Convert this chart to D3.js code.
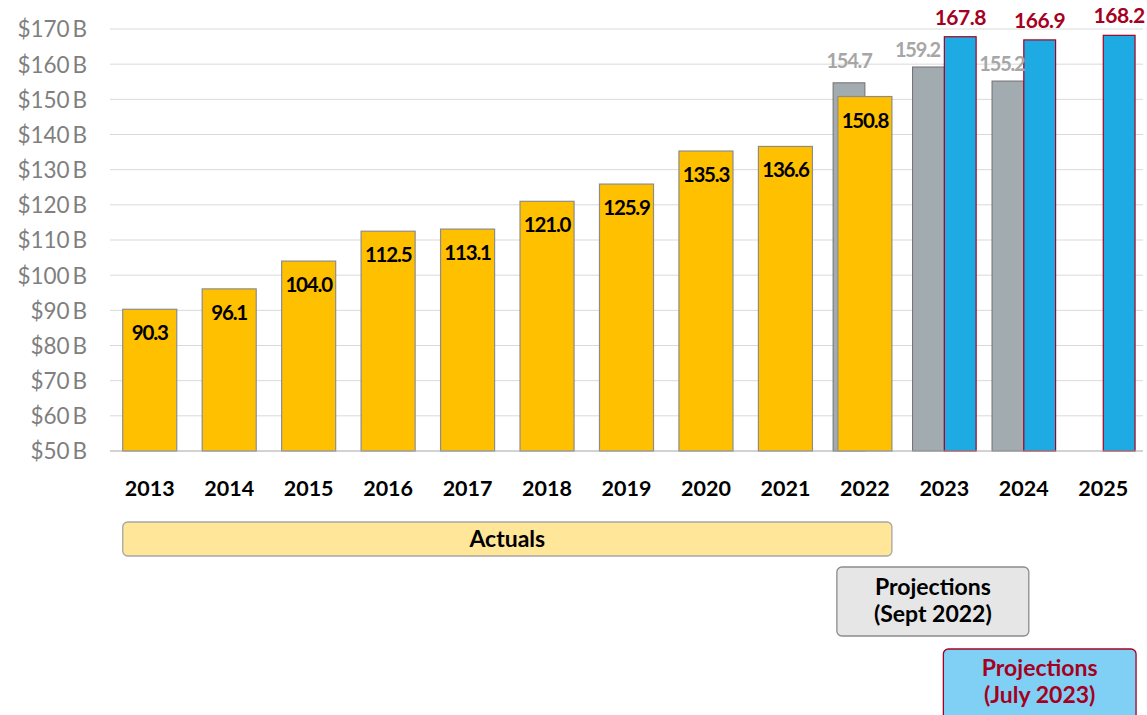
<!DOCTYPE html>
<html>
<head>
<meta charset="utf-8">
<script src="https://cdn.jsdelivr.net/npm/d3@7"></script>
<style>
  html, body { margin: 0; padding: 0; background: #fff; }
  svg text { font-family: Lato, "Open Sans", sans-serif; }
</style>
</head>
<body>
<svg id="chart" width="1147" height="715"></svg>
<script>
const years = ["2013","2014","2015","2016","2017","2018","2019","2020","2021","2022","2023","2024","2025"];
const actuals = [90.3, 96.1, 104.0, 112.5, 113.1, 121.0, 125.9, 135.3, 136.6, 150.8, null, null, null];
const projSept2022 = [null, null, null, null, null, null, null, null, null, 154.7, 159.2, 155.2, null];
const projJuly2023 = [null, null, null, null, null, null, null, null, null, null, 167.8, 166.9, 168.2];
const yTicks = [50, 60, 70, 80, 90, 100, 110, 120, 130, 140, 150, 160, 170];

const svg = d3.select("#chart");
const plotL = 110, plotR = 1143, plotT = 29, plotB = 451;

const x = d3.scaleBand().domain(years).range([plotL, plotR]).paddingInner(0.32).paddingOuter(0.16);
const y = d3.scaleLinear().domain([50, 170]).range([plotB, plotT]);
const groupW = x.step() * 0.8;
const x1 = d3.scaleBand().domain(["sept", "july"])
  .range([x.bandwidth() / 2 - groupW / 2, x.bandwidth() / 2 + groupW / 2]);

// gridlines
svg.append("g").selectAll("line").data(yTicks.filter(d => d > 50)).join("line")
  .attr("x1", plotL).attr("x2", plotR)
  .attr("y1", d => y(d)).attr("y2", d => y(d))
  .attr("stroke", "#d9d9d9").attr("stroke-width", 1);

// y axis
const yAxis = d3.axisLeft(y).tickValues(yTicks).tickSize(0).tickPadding(0)
  .tickFormat(d => "$" + d + "\u2009B");
const gy = svg.append("g").attr("transform", `translate(${plotL - 23},0)`).call(yAxis);
gy.select(".domain").remove();
gy.selectAll("text").attr("font-size", 22.5).attr("fill", "#7f7f7f")
  .style("font-family", "Lato, 'Open Sans', sans-serif").attr("dy", "0.35em");

const rows = years.map((yr, i) => ({ yr, a: actuals[i], s: projSept2022[i], j: projJuly2023[i] }));

// Sept 2022 projection bars (grey)
svg.append("g").selectAll("rect").data(rows.filter(d => d.s != null)).join("rect")
  .attr("x", d => x(d.yr) + x1("sept")).attr("width", x1.bandwidth())
  .attr("y", d => y(d.s)).attr("height", d => y(50) - y(d.s))
  .attr("fill", "#a2abb0").attr("stroke", "#707070").attr("stroke-width", 1);

// July 2023 projection bars (blue)
svg.append("g").selectAll("rect").data(rows.filter(d => d.j != null)).join("rect")
  .attr("x", d => x(d.yr) + x1("july")).attr("width", x1.bandwidth())
  .attr("y", d => y(d.j)).attr("height", d => y(50) - y(d.j))
  .attr("fill", "#1eaae2").attr("stroke", "#a50021").attr("stroke-width", 1.2);

// actual bars (gold)
svg.append("g").selectAll("rect").data(rows.filter(d => d.a != null)).join("rect")
  .attr("x", d => x(d.yr)).attr("width", x.bandwidth())
  .attr("y", d => y(d.a)).attr("height", d => y(50) - y(d.a))
  .attr("fill", "#ffc000").attr("stroke", "#8c8c8c").attr("stroke-width", 1.2);

// baseline
svg.append("line").attr("x1", plotL).attr("x2", plotR).attr("y1", y(50)).attr("y2", y(50))
  .attr("stroke", "#a6a6a6").attr("stroke-width", 1.2);

// labels actual
svg.append("g").selectAll("text").data(rows.filter(d => d.a != null)).join("text")
  .attr("x", d => x(d.yr) + x.bandwidth() / 2).attr("y", d => y(d.a) + 31)
  .attr("text-anchor", "middle").attr("font-size", 20.5).attr("font-weight", 700)
  .attr("letter-spacing", -1.2).attr("fill", "#000").text(d => d.a.toFixed(1));

// labels sept
const septDx = { "2022": 0, "2023": -11, "2024": -6 };
svg.append("g").selectAll("text").data(rows.filter(d => d.s != null)).join("text")
  .attr("x", d => x(d.yr) + x1("sept") + x1.bandwidth() / 2 + (septDx[d.yr] || 0))
  .attr("y", d => y(d.s) - (d.yr === "2022" ? 15 : 10))
  .attr("text-anchor", "middle").attr("font-size", 20).attr("font-weight", 700)
  .attr("letter-spacing", -1.2).attr("fill", "#a6a6a6").text(d => d.s.toFixed(1));

// labels july
svg.append("g").selectAll("text").data(rows.filter(d => d.j != null)).join("text")
  .attr("x", d => x(d.yr) + x1("july") + x1.bandwidth() / 2)
  .attr("y", d => y(d.j) - 12)
  .attr("text-anchor", "middle").attr("font-size", 21).attr("font-weight", 700)
  .attr("letter-spacing", -0.5).attr("fill", "#a50021").text(d => d.j.toFixed(1));

// x labels
svg.append("g").selectAll("text").data(years).join("text")
  .attr("x", d => x(d) + x.bandwidth() / 2).attr("y", 496)
  .attr("text-anchor", "middle").attr("font-size", 21.5).attr("font-weight", 700)
  .attr("fill", "#000").text(d => d);

// legend boxes
function box(x0, x1p, y0, y1p, fill, stroke, lines, color, firstBase) {
  svg.append("rect").attr("x", x0).attr("y", y0).attr("width", x1p - x0).attr("height", y1p - y0)
    .attr("rx", 5).attr("fill", fill).attr("stroke", stroke).attr("stroke-width", 1.3);
  const cx = (x0 + x1p) / 2;
  lines.forEach((t, i) => {
    svg.append("text").attr("x", cx).attr("y", firstBase + i * 27)
      .attr("text-anchor", "middle").attr("font-size", 23).attr("font-weight", 700)
      .attr("fill", color).text(t);
  });
}
box(x("2013"), x("2022") + x.bandwidth(), 522, 556, "#ffe699", "#a6a6a6", ["Actuals"], "#000", 547);
box(x("2022") - 1, x("2024") + x1("sept") + x1.bandwidth() + 5, 567, 636, "#e6e6e6", "#8c8c8c",
    ["Projections", "(Sept 2022)"], "#000", 595);
box(x("2023") + x1("july") - 1, x("2025") + x1("july") + x1.bandwidth() + 1, 649, 725, "#80d0f5", "#a50021",
    ["Projections", "(July 2023)"], "#a50021", 676);
</script>
</body>
</html>
